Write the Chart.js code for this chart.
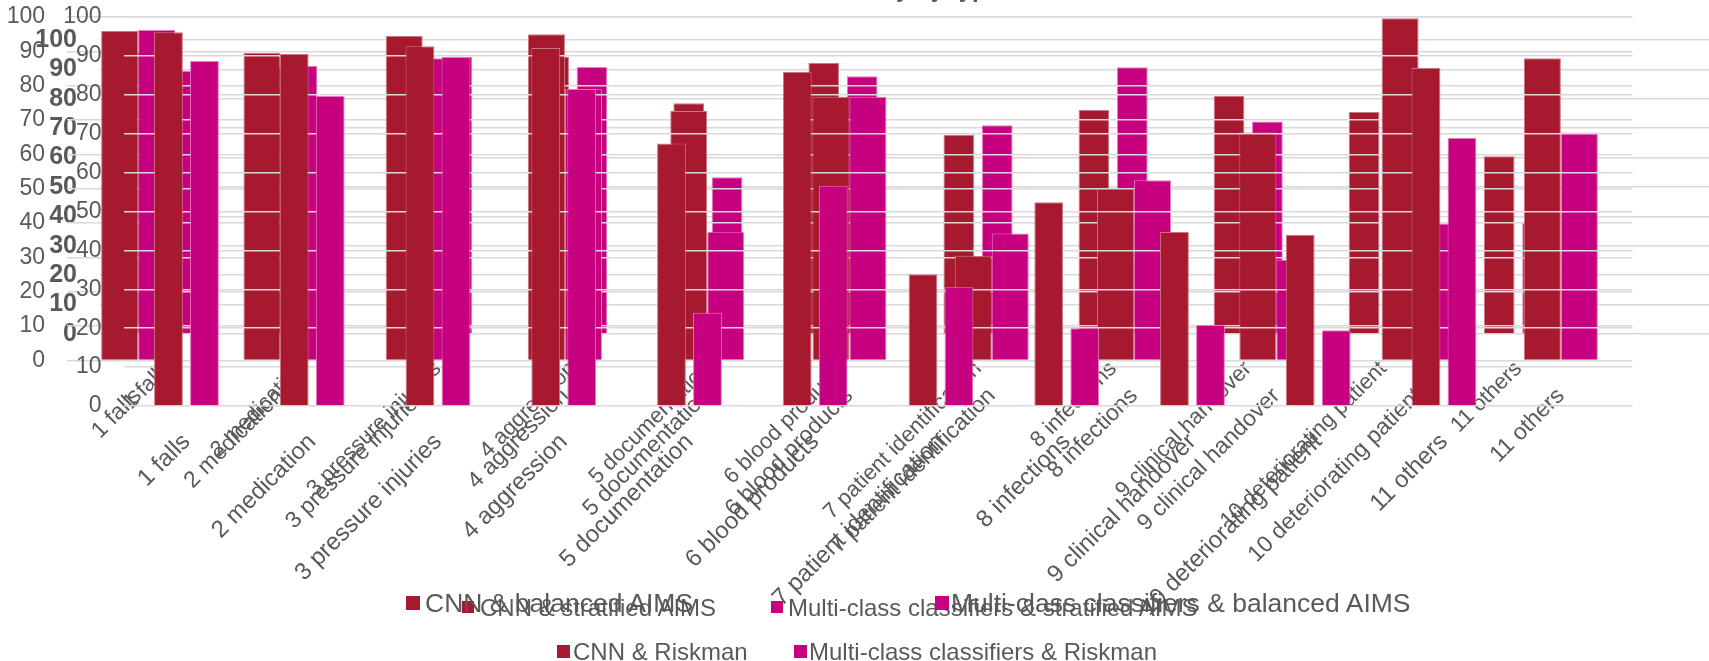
<!DOCTYPE html>
<html>
<head>
<meta charset="utf-8">
<script src="https://cdn.jsdelivr.net/npm/chart.js@4.4.1/dist/chart.umd.min.js"></script>
<style>
body{margin:0;background:#fff;}
#wrap{position:relative;width:1709px;height:661px;overflow:hidden;font-family:"Liberation Sans",Arial,sans-serif;color:#595959;}
#wrap canvas{position:absolute;left:0;top:0;}
.title{position:absolute;right:709px;top:-23px;font-size:24px;line-height:24px;font-weight:bold;white-space:nowrap;}
.key{position:absolute;white-space:nowrap;}
.key i{position:absolute;display:block;}
</style>
</head>
<body>
<div id="wrap">
<canvas id="chartB" width="1730" height="661"></canvas>
<canvas id="chartA" width="1709" height="661"></canvas>
<canvas id="chartC" width="1709" height="661"></canvas>
<div class="title">Accuracy by type</div>
</div>
<script>
let categories=["1 falls","2 medication","3 pressure injuries","4 aggression","5 documentation","6 blood products","7 patient identification","8 infections","9 clinical handover","10 deteriorating patient","11 others"]

let cnnBalanced=[95.9,89.5,94.5,95.0,72.6,76.8,30.5,49.9,66.4,99.6,88.0]
let mccBalanced=[96.2,85.7,88.0,79.0,37.5,76.8,37.0,52.5,29.3,39.9,66.4]

let cnnStratified=[96.0,91.0,93.0,94.2,78.5,92.2,67.7,76.2,81.0,75.5,60.5]
let mccStratified=[89.5,78.0,94.2,90.8,53.3,87.7,71.0,90.7,72.3,62.0,37.8]

let cnnRiskman=[96.1,90.5,92.5,92.0,67.5,85.9,33.9,52.4,44.7,44.0,86.9]
let mccRiskman=[88.7,79.7,89.7,81.5,24.0,56.6,30.5,20.0,20.8,19.5,68.9]

let CNN_RED="#A6192E"
let MCC_PINK="#C6007E"
let FONT="'Liberation Sans', Arial, sans-serif"
let H=661


function makeChart(id,cfg){

return new Chart(
document.getElementById(id),
{
type:"bar",
data:{
labels:cfg.labels,
datasets:cfg.series.map(s=>({
label:s.name,
data:s.data,
backgroundColor:s.color,
borderColor:s.edge,
borderWidth:1,
categoryPercentage:cfg.cp,
barPercentage:cfg.bp
}))
},
options:{
responsive:false,
animation:false,
layout:{padding:{top:cfg.top,right:cfg.width-cfg.right,left:0,bottom:0}},
plugins:{legend:{display:false},tooltip:{enabled:false}},
scales:{
x:{
grid:{display:false},
border:{display:false},
ticks:{autoSkip:false,maxRotation:45,minRotation:45,padding:cfg.xPad,color:"#595959",
font:{family:FONT,size:cfg.xSize}},
afterFit:s=>{
s.height=H-cfg.bottom
s.paddingLeft=0
s.paddingRight=0
}
},
y:{
min:0,max:100,
ticks:{stepSize:10,autoSkip:false,padding:cfg.yPad,color:"#595959",
font:{family:FONT,size:cfg.ySize,weight:cfg.yWeight}},
grid:{color:"#D9D9D9",lineWidth:1.5,drawTicks:false},
border:{display:false},
// keep the plot box exactly where it is set, labels may overhang it
afterFit:s=>{
s.width=cfg.left
s.paddingTop=0
s.paddingBottom=0
}
}
}
}
})

}


// stratified AIMS sits underneath, balanced AIMS in the middle, Riskman on top
let stratified={
labels:categories.concat([""]),
series:[
{name:"CNN & stratified AIMS",data:cnnStratified,color:CNN_RED,edge:"#C97783"},
{name:"Multi-class classifiers & stratified AIMS",data:mccStratified,color:MCC_PINK,edge:"#E27DBE"}
],
width:1730,left:100,right:1721,top:40,bottom:334,
cp:0.5685,bp:0.8,xPad:14,xSize:22,yPad:23,ySize:25,yWeight:"bold",
key:{y:607,size:24,box:12,spots:[[462,480],[771,788]]}
}

let balanced={
labels:categories,
series:[
{name:"CNN & balanced AIMS",data:cnnBalanced,color:CNN_RED,edge:"#C97783"},
{name:"Multi-class classifiers & balanced AIMS",data:mccBalanced,color:MCC_PINK,edge:"#E27DBE"}
],
width:1709,left:67,right:1632,top:17,bottom:360.5,
cp:0.52,bp:1,xPad:14,xSize:23,yPad:22,ySize:23,yWeight:"normal",
key:{y:603,size:26.5,box:14,spots:[[406,425],[935,951]]}
}

let riskman={
labels:categories.concat([""]),
series:[
{name:"CNN & Riskman",data:cnnRiskman,color:CNN_RED,edge:"#C97783"},
{name:"Multi-class classifiers & Riskman",data:mccRiskman,color:MCC_PINK,edge:"#E27DBE"}
],
width:1709,left:123.6,right:1632.6,top:17,bottom:406,
cp:0.5725,bp:0.8,xPad:14,xSize:24,yPad:22,ySize:23,yWeight:"normal",
key:{y:651,size:24,box:13,spots:[[557,573],[794,809]]}
}

makeChart("chartB",stratified)
makeChart("chartA",balanced)
makeChart("chartC",riskman)


function addKey(cfg){

let wrap=document.getElementById("wrap")

cfg.series.forEach((s,i)=>{

let spot=cfg.key.spots[i]
let lh=Math.round(cfg.key.size*1.2)

let item=document.createElement("div")
item.className="key"
item.style.left=spot[1]+"px"
item.style.top=(cfg.key.y-lh/2)+"px"
item.style.fontSize=cfg.key.size+"px"
item.style.lineHeight=lh+"px"
item.textContent=s.name

let box=document.createElement("i")
box.style.width=cfg.key.box+"px"
box.style.height=cfg.key.box+"px"
box.style.background=s.color
box.style.left=(spot[0]-spot[1])+"px"
box.style.top=((lh-cfg.key.box)/2)+"px"
item.appendChild(box)

wrap.appendChild(item)

})

}

addKey(stratified)
addKey(balanced)
addKey(riskman)
</script>
</body>
</html>
